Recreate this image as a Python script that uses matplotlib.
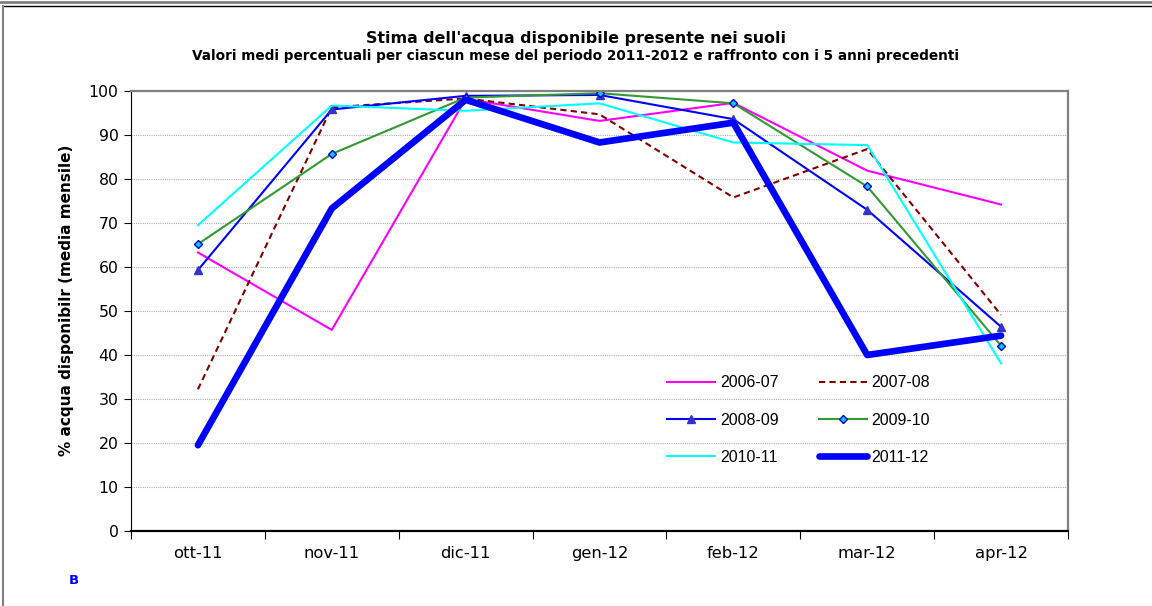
import numpy as np
import matplotlib.pyplot as plt
from matplotlib.lines import Line2D

plt.rcParams['font.family'] = ['DejaVu Sans']

mesi = ['ott-11', 'nov-11', 'dic-11', 'gen-12', 'feb-12', 'mar-12', 'apr-12']

s_2006_07 = [63.3, 45.7, 98.2, 93.2, 97.3, 81.9, 74.2]
s_2007_08 = [32.2, 96.3, 98.3, 94.7, 75.8, 86.8, 49.1]
s_2008_09 = [59.3, 95.8, 98.9, 99.1, 93.6, 73.0, 46.4]
s_2009_10 = [65.2, 85.7, 98.5, 99.5, 97.2, 78.3, 42.1]
s_2010_11 = [69.5, 96.7, 95.5, 97.2, 88.3, 87.7, 38.1]
s_2011_12 = [19.5, 73.3, 98.0, 88.3, 92.8, 40.0, 44.4]

fig = plt.figure(figsize=(11.52, 6.06), dpi=100)
ax = fig.add_axes([131 / 1152, 1 - 531 / 606, (1068 - 131) / 1152, (531 - 91) / 606])

x = np.arange(len(mesi))
h1, = ax.plot(x, s_2006_07, color='#ff00ff', lw=1.5, label='2006-07')
h2, = ax.plot(x, s_2007_08, color='#800000', lw=1.5, ls=(0, (3, 2)), label='2007-08')
h3, = ax.plot(x, s_2008_09, color='#0000ff', lw=1.5, marker='^', ms=6,
              mfc='#3333cc', mec='#3333cc', label='2008-09')
h4, = ax.plot(x, s_2009_10, color='#339933', lw=1.5, marker='D', ms=4.5,
              mfc='#00ccff', mec='#0000cc', mew=1, label='2009-10')
h5, = ax.plot(x, s_2010_11, color='#00ffff', lw=1.5, label='2010-11')
h6, = ax.plot(x, s_2011_12, color='#0000ff', lw=4.8, solid_capstyle='round',
              solid_joinstyle='round', label='2011-12')

ax.set_xlim(-0.5, len(mesi) - 0.5)
ax.set_ylim(0, 100)
ax.set_yticks(np.arange(0, 101, 10))
ax.set_xticks(x)
ax.set_xticklabels(mesi)
ax.set_xticks(np.arange(-0.5, len(mesi), 1), minor=True)
ax.tick_params(axis='x', which='major', length=0, labelsize=11.8, pad=11)
ax.tick_params(axis='x', which='minor', length=6, width=0.8, direction='out')
ax.tick_params(axis='y', length=5, width=0.8, labelsize=11.3, pad=4)
ax.yaxis.grid(True, color='#b0b0b0', ls=(0, (1, 1)), lw=0.8)
ax.set_axisbelow(True)

ax.spines['left'].set_color('black')
ax.spines['bottom'].set_color('black')
ax.spines['bottom'].set_linewidth(1.6)
ax.spines['top'].set_color('#808080')
ax.spines['top'].set_linewidth(1.6)
ax.spines['right'].set_color('#808080')
ax.spines['right'].set_linewidth(1.6)

ax.set_ylabel('% acqua disponibilr (media mensile)', fontsize=11, fontweight='bold')
ax.yaxis.set_label_coords(-0.061, 0.524)

fig.text(0.5, 1 - 39 / 606, "Stima dell'acqua disponibile presente nei suoli",
         ha='center', va='center', fontsize=11.4, fontweight='bold')
fig.text(0.5, 1 - 56 / 606,
         'Valori medi percentuali per ciascun mese del periodo 2011-2012 e raffronto con i 5 anni precedenti',
         ha='center', va='center', fontsize=9.8, fontweight='bold')
fig.text(69 / 1152, 1 - 580 / 606, 'B', color='#0000ff', fontsize=9.5, fontweight='bold',
         ha='left', va='center')

# legenda su tre righe, letta per righe
ax.legend(handles=[h1, h3, h5, h2, h4, h6],
          loc='upper left', bbox_to_anchor=((653 - 131) / 937, (531 - 361) / 440),
          ncol=2, frameon=False, prop={'family': 'Liberation Sans', 'size': 11.5},
          handlelength=3.0, labelspacing=1.39, columnspacing=2.5, handletextpad=0.3)

# cornice esterna
fig.add_artist(Line2D([0, 1], [1 - 2 / 606] * 2, color='#808080', lw=2))
fig.add_artist(Line2D([3 / 1152, 1], [1 - 6 / 606] * 2, color='black', lw=1))
fig.add_artist(Line2D([3 / 1152] * 2, [0, 1 - 6 / 606], color='#808080', lw=1.5))

fig.savefig('out.png', dpi=100)
